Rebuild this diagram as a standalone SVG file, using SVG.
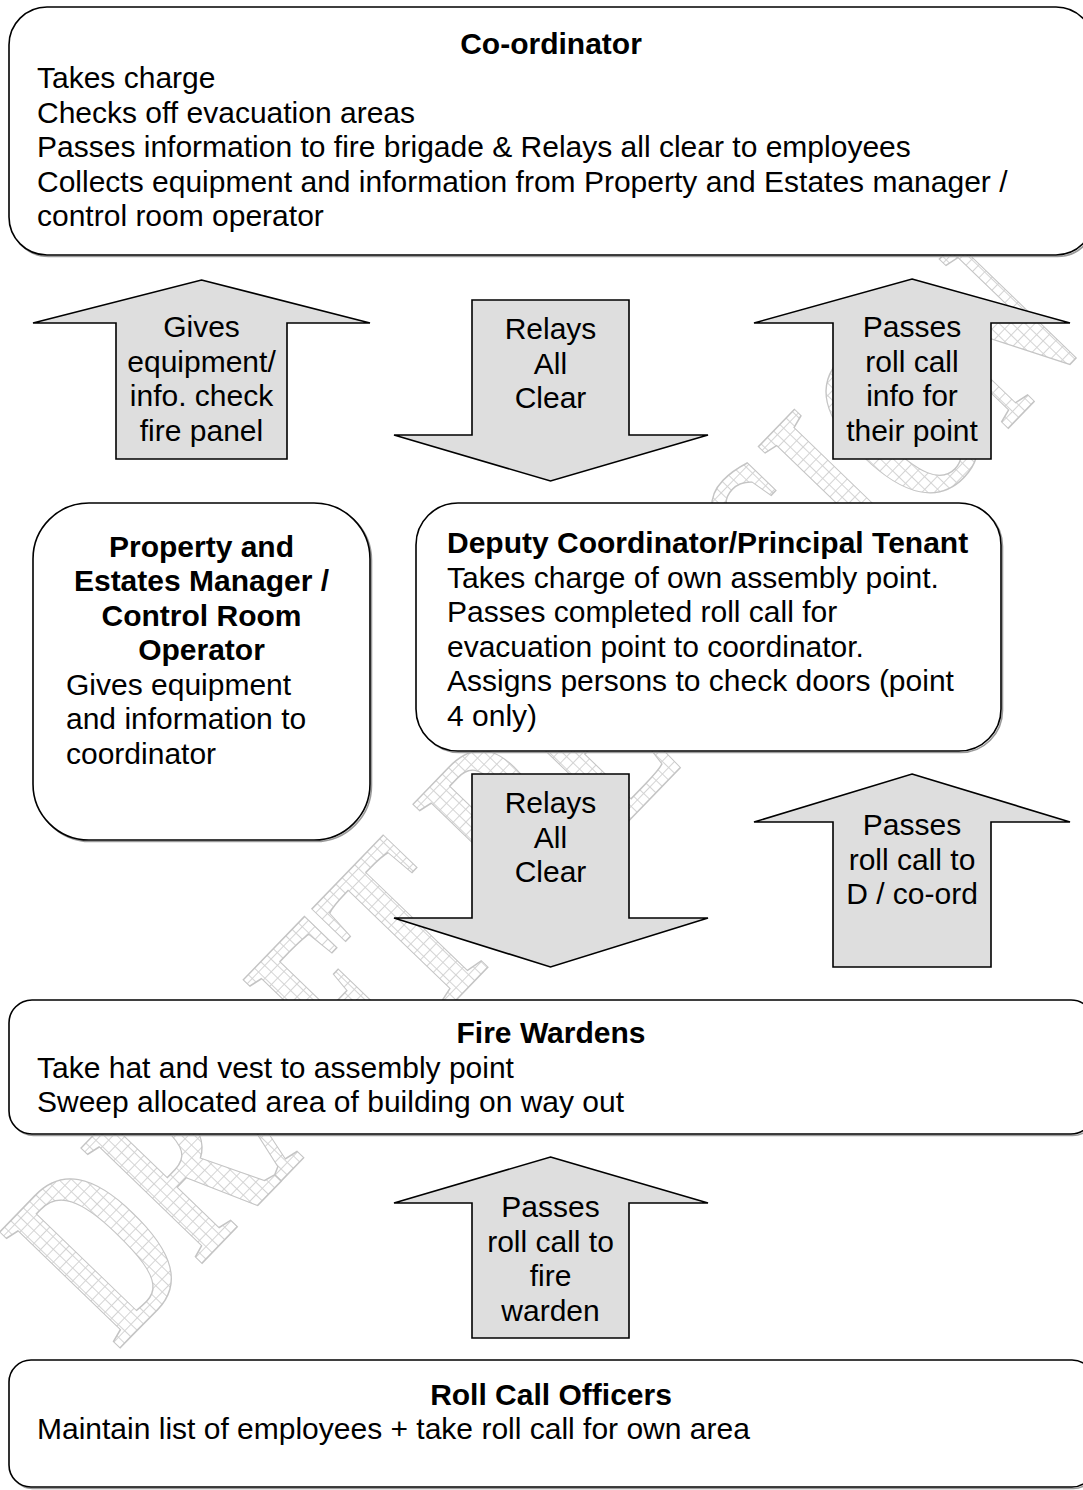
<svg xmlns="http://www.w3.org/2000/svg" width="1083" height="1490" viewBox="0 0 1083 1490">
  <defs>
    <pattern id="grid" patternUnits="userSpaceOnUse" width="9" height="9">
      <rect width="9" height="9" fill="#ffffff"/>
      <path d="M0 0.5H9M0.5 0V9" stroke="#d4d4d4" stroke-width="1" fill="none"/>
    </pattern>
    <style>
      .box { fill: #ffffff; stroke: #000000; stroke-width: 1.6; }
      .shadow { fill: none; stroke: #9a9a9a; stroke-width: 1.6; }
      .arrow { fill: #dedede; stroke: #000000; stroke-width: 1.6; stroke-linejoin: miter; }
      .t { font-family: "Liberation Sans", Arial, sans-serif; font-size: 30px; fill: #000000; }
      .b { font-weight: bold; }
      .c { text-anchor: middle; }
      .wm { font-family: "Liberation Serif", "Times New Roman", serif; font-weight: bold; font-size: 255px; fill: url(#grid); stroke: #c4c4c4; stroke-width: 1.5; }
    </style>
  </defs>
  <rect width="1083" height="1490" fill="#ffffff"/>

  <g id="watermark">
    <text class="wm" transform="translate(118,1350) rotate(-46)" x="0" y="0" textLength="1395" lengthAdjust="spacingAndGlyphs">DRAFT REVISION</text>
  </g>

  <g id="node-coordinator">
    <rect class="shadow" x="10.5" y="8.5" width="1085" height="248" rx="38" ry="38"/>
    <rect class="box" x="9" y="7" width="1085" height="248" rx="38" ry="38"/>
    <text class="t b c" x="551" y="53.5">Co-ordinator</text>
    <text class="t" x="37" y="88">Takes charge</text>
    <text class="t" x="37" y="122.5">Checks off evacuation areas</text>
    <text class="t" x="37" y="157">Passes information to fire brigade &amp; Relays all clear to employees</text>
    <text class="t" x="37" y="191.5">Collects equipment and information from Property and Estates manager /</text>
    <text class="t" x="37" y="226">control room operator</text>
  </g>

  <g id="node-property">
    <rect class="shadow" x="34.5" y="504.5" width="337" height="337" rx="56" ry="56"/>
    <rect class="box" x="33" y="503" width="337" height="337" rx="56" ry="56"/>
    <text class="t b c" x="201.5" y="556.5">Property and</text>
    <text class="t b c" x="201.5" y="591">Estates Manager /</text>
    <text class="t b c" x="201.5" y="625.5">Control Room</text>
    <text class="t b c" x="201.5" y="660">Operator</text>
    <text class="t" x="66" y="694.5">Gives equipment</text>
    <text class="t" x="66" y="729">and information to</text>
    <text class="t" x="66" y="763.5">coordinator</text>
  </g>

  <g id="node-deputy">
    <rect class="shadow" x="417.5" y="504.5" width="585" height="248" rx="42" ry="42"/>
    <rect class="box" x="416" y="503" width="585" height="248" rx="42" ry="42"/>
    <text class="t b" x="447" y="553">Deputy Coordinator/Principal Tenant</text>
    <text class="t" x="447" y="587.5">Takes charge of own assembly point.</text>
    <text class="t" x="447" y="622">Passes completed roll call for</text>
    <text class="t" x="447" y="656.5">evacuation point to coordinator.</text>
    <text class="t" x="447" y="691">Assigns persons to check doors (point</text>
    <text class="t" x="447" y="725.5">4 only)</text>
  </g>

  <g id="node-firewardens">
    <rect class="shadow" x="10.5" y="1001.5" width="1085" height="134" rx="23" ry="23"/>
    <rect class="box" x="9" y="1000" width="1085" height="134" rx="23" ry="23"/>
    <text class="t b c" x="551" y="1043">Fire Wardens</text>
    <text class="t" x="37" y="1077.5">Take hat and vest to assembly point</text>
    <text class="t" x="37" y="1112">Sweep allocated area of building on way out</text>
  </g>

  <g id="node-rollcall">
    <rect class="shadow" x="10.5" y="1361.5" width="1085" height="127" rx="22" ry="22"/>
    <rect class="box" x="9" y="1360" width="1085" height="127" rx="22" ry="22"/>
    <text class="t b c" x="551" y="1404.5">Roll Call Officers</text>
    <text class="t" x="37" y="1439">Maintain list of employees + take roll call for own area</text>
  </g>

  <g id="connectors">
    <g id="arrow-gives-equipment">
      <polygon class="arrow" points="201.5,280 370,323 287,323 287,459 116,459 116,323 33,323"/>
      <text class="t c" x="201.5" y="337">Gives</text>
      <text class="t c" x="201.5" y="371.5">equipment/</text>
      <text class="t c" x="201.5" y="406">info. check</text>
      <text class="t c" x="201.5" y="440.5">fire panel</text>
    </g>
    <g id="arrow-relays-1">
      <polygon class="arrow" points="472,300 629,300 629,435 708,435 550.5,481 394,435 472,435"/>
      <text class="t c" x="550.5" y="339">Relays</text>
      <text class="t c" x="550.5" y="373.5">All</text>
      <text class="t c" x="550.5" y="408">Clear</text>
    </g>
    <g id="arrow-passes-info">
      <polygon class="arrow" points="912,279 1070,323 991,323 991,459 833,459 833,323 754,323"/>
      <text class="t c" x="912" y="337">Passes</text>
      <text class="t c" x="912" y="371.5">roll call</text>
      <text class="t c" x="912" y="406">info for</text>
      <text class="t c" x="912" y="440.5">their point</text>
    </g>
    <g id="arrow-relays-2">
      <polygon class="arrow" points="472,774 629,774 629,918 708,918 550.5,967 394,918 472,918"/>
      <text class="t c" x="550.5" y="813">Relays</text>
      <text class="t c" x="550.5" y="847.5">All</text>
      <text class="t c" x="550.5" y="882">Clear</text>
    </g>
    <g id="arrow-passes-dcoord">
      <polygon class="arrow" points="912,774 1070,822 991,822 991,967 833,967 833,822 754,822"/>
      <text class="t c" x="912" y="835">Passes</text>
      <text class="t c" x="912" y="869.5">roll call to</text>
      <text class="t c" x="912" y="904">D / co-ord</text>
    </g>
    <g id="arrow-passes-warden">
      <polygon class="arrow" points="550.5,1157 708,1203 629,1203 629,1338 472,1338 472,1203 394,1203"/>
      <text class="t c" x="550.5" y="1217">Passes</text>
      <text class="t c" x="550.5" y="1251.5">roll call to</text>
      <text class="t c" x="550.5" y="1286">fire</text>
      <text class="t c" x="550.5" y="1320.5">warden</text>
    </g>
  </g>
</svg>
